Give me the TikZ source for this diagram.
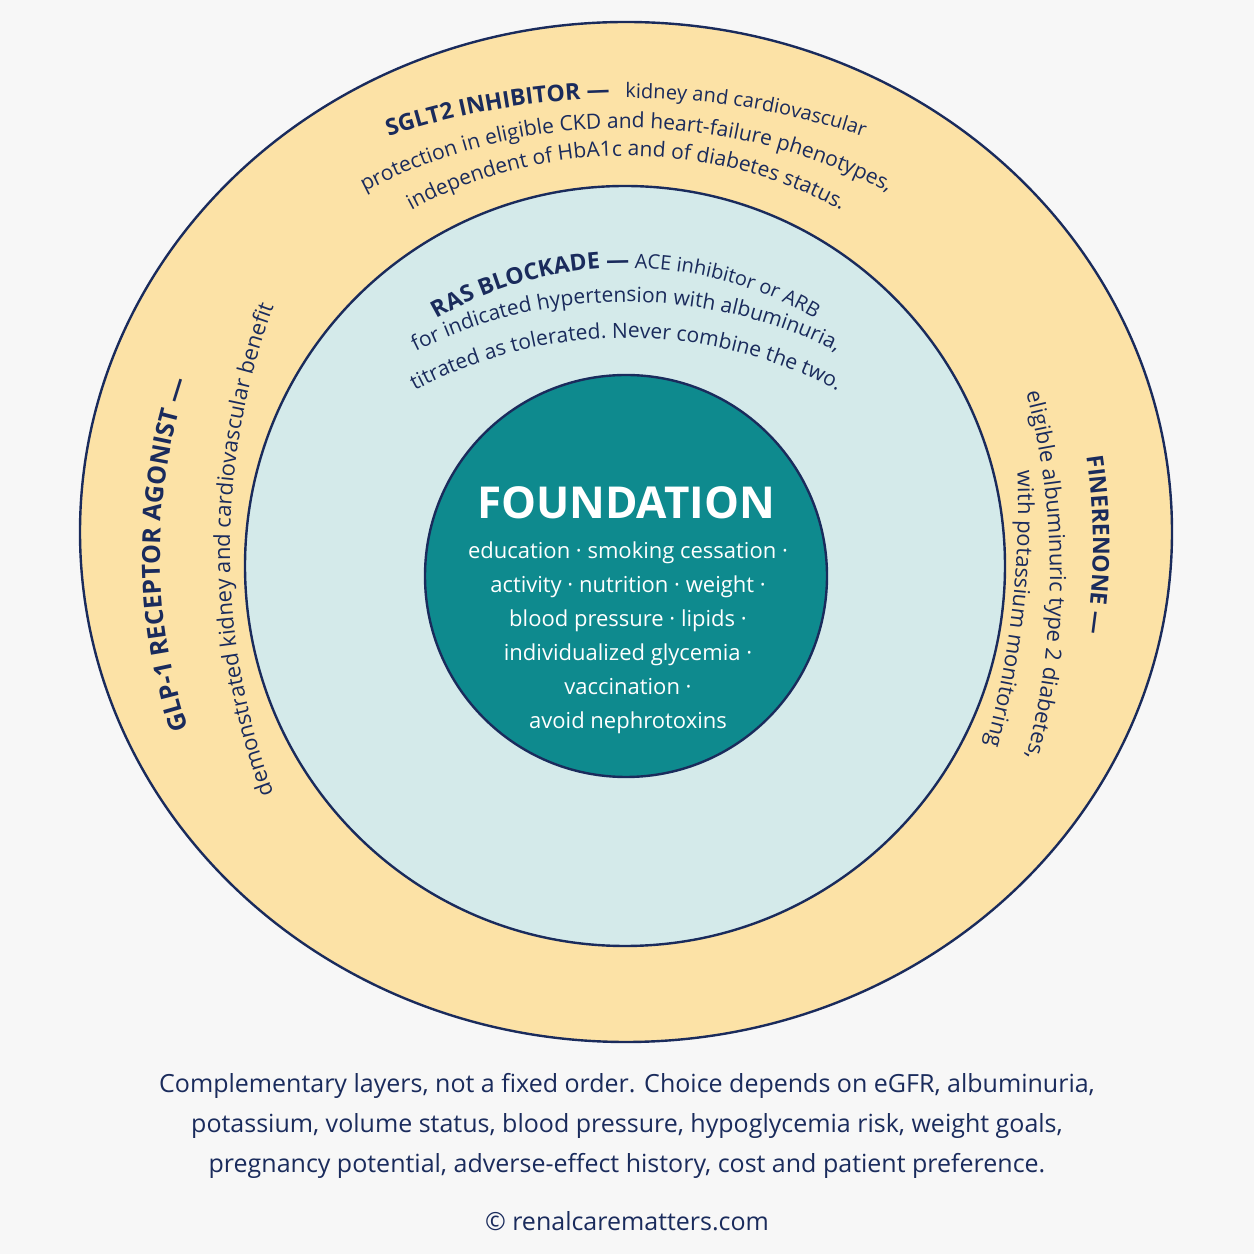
\documentclass[tikz,border=0pt]{standalone}
\usepackage{fontspec}
\setmainfont{Open Sans}
\usetikzlibrary{decorations.text}
\definecolor{navy}{HTML}{1A2B5C}
\definecolor{ylw}{HTML}{FCE2A6}
\definecolor{lblue}{HTML}{D4EAEA}
\definecolor{teal}{HTML}{0E8A8E}
\definecolor{bg}{HTML}{F7F7F7}
\begin{document}
\begin{tikzpicture}[x=0.5pt,y=0.5pt,
  ring/.style={draw=navy,line width=1.2pt},
  arctext/.style={decorate,decoration={text along path,text align=center,
     text={#1},text color=navy}},
  btxt/.style={font=\fontsize{12.5}{20}\selectfont,text=navy,align=center}]
\fill[bg] (0,0) rectangle (1254,1254);
\useasboundingbox (0,0) rectangle (1254,1254);
\path[ring,fill=ylw] (626,722) ellipse [x radius=546,y radius=510];
\path[ring,fill=lblue] (625,688) circle [radius=380];
\path[ring,fill=teal] (626,678) circle [radius=201];
\node[text=white,font=\fontsize{22}{26}\selectfont\bfseries] (found) at (626,751) {FOUNDATION};
\node[text=white,align=center,font=\fontsize{11}{17}\selectfont] (flist) at (628,616)
 {education · smoking cessation ·\\ activity · nutrition · weight ·\\ blood pressure · lipids ·\\ individualized glycemia ·\\ vaccination ·\\ avoid nephrotoxins};
% SGLT2
\path[arctext={|\fontsize{11.5}{13}\selectfont\bfseries|SGLT2 INHIBITOR —|\mdseries|\ \ \ kidney and cardiovascular}] (626,406)+(120:750) arc[start angle=120,end angle=60,radius=750];
\path[arctext={|\fontsize{10.5}{13}\selectfont|protection in eligible CKD and heart-failure phenotypes,}] (626,561)+(135:565) arc[start angle=135,end angle=45,radius=565];
\path[arctext={|\fontsize{10.5}{13}\selectfont|independent of HbA1c and of diabetes status.}] (626,646)+(135:452) arc[start angle=135,end angle=45,radius=452];
% RAS
\path[arctext={|\fontsize{11.5}{13}\selectfont\bfseries|RAS BLOCKADE —|\mdseries| ACE inhibitor or ARB}] (626,606)+(145:380) arc[start angle=145,end angle=35,radius=380];
\path[arctext={|\fontsize{10.5}{13}\selectfont|for indicated hypertension with albuminuria,}] (626,482)+(135:470) arc[start angle=135,end angle=45,radius=470];
\path[arctext={|\fontsize{10.5}{13}\selectfont|titrated as tolerated. Never combine the two.}] (626,466)+(135:450) arc[start angle=135,end angle=45,radius=450];
% GLP-1
\path[arctext={|\fontsize{12.5}{13}\selectfont\bfseries|GLP-1 RECEPTOR AGONIST —}] (705,699)+(215:545) arc[start angle=215,end angle=145,radius=545];
\path[arctext={|\fontsize{11}{13}\selectfont|demonstrated kidney and cardiovascular benefit}] (930,704)+(210:700) arc[start angle=210,end angle=150,radius=700];
% Finerenone
\path[arctext={|\fontsize{11.5}{13}\selectfont\bfseries|FINERENONE —}] (493,709)+(25:600) arc[start angle=25,end angle=-25,radius=600];
\path[arctext={|\fontsize{11}{13}\selectfont|eligible albuminuric type 2 diabetes,}] (343,679)+(25:707) arc[start angle=25,end angle=-25,radius=707];
\path[arctext={|\fontsize{11}{13}\selectfont|with potassium monitoring}] (118,747)+(12:900) arc[start angle=12,end angle=-25,radius=900];
% bottom
\node[btxt] (note) at (627,128) {Complementary layers, not a fixed order. Choice depends on eGFR, albuminuria,\\ potassium, volume status, blood pressure, hypoglycemia risk, weight goals,\\ pregnancy potential, adverse-effect history, cost and patient preference.};
\node[btxt] (copy) at (627,33) {© renalcarematters.com};
\end{tikzpicture}
\end{document}
